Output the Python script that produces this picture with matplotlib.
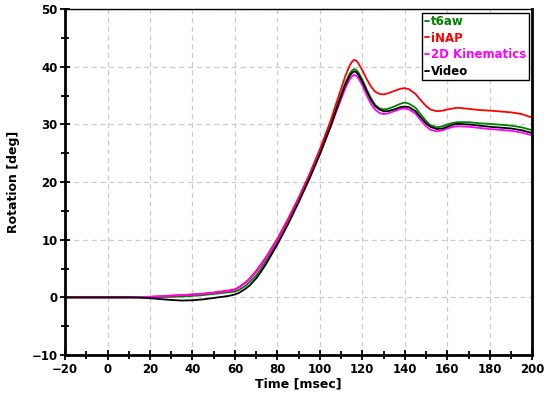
import numpy as np
import matplotlib
matplotlib.use("Agg")
import matplotlib.pyplot as plt
from matplotlib.ticker import MultipleLocator

# time axis [msec]
t = [-20, -10, 0, 10, 15, 20, 25, 30, 35, 40, 45, 50,
     55, 57, 60, 62, 65, 67, 70, 72, 75,
     80, 85, 90, 95, 100,
     105, 108, 110, 112, 114, 115, 116, 117, 118,
     120, 122, 124, 126, 128, 130, 132,
     135, 138, 140, 142, 145, 148, 150, 152,
     155, 158, 160, 163, 165,
     170, 175, 180, 190, 195, 200]

video = [0, 0, 0, 0, -0.05, -0.15, -0.3, -0.45, -0.55, -0.5, -0.35, -0.1,
         0.15, 0.25, 0.5, 0.8, 1.5, 2.1, 3.3, 4.3, 6.0,
         9.2, 12.7, 16.5, 20.5, 24.8,
         29.6, 32.8, 34.9, 36.9, 38.4, 38.9, 39.2, 39.1, 38.7,
         37.4, 35.8, 34.3, 33.2, 32.6, 32.3, 32.3,
         32.6, 33.0, 33.1, 33.0, 32.3, 31.0, 30.2, 29.6,
         29.2, 29.3, 29.6, 30.0, 30.1,
         30.0, 29.8, 29.6, 29.3, 29.0, 28.5]

t6aw = [0, 0, 0, 0, 0, 0, 0.05, 0.1, 0.15, 0.25, 0.4, 0.6,
        0.8, 0.9, 1.0, 1.3, 2.0, 2.7, 3.8, 4.8, 6.5,
        9.6, 13.0, 16.8, 20.8, 25.1,
        30.0, 33.2, 35.2, 37.2, 38.8, 39.3, 39.6, 39.5, 39.1,
        37.8, 36.1, 34.6, 33.4, 32.8, 32.6, 32.7,
        33.1, 33.6, 33.8, 33.6, 32.9, 31.5, 30.6, 29.9,
        29.5, 29.7, 30.0, 30.3, 30.4,
        30.4, 30.2, 30.1, 29.8, 29.5, 29.0]

inap = [0, 0, 0, 0, 0.05, 0.1, 0.2, 0.3, 0.4, 0.5, 0.65, 0.85,
        1.1, 1.2, 1.4, 1.8, 2.6, 3.3, 4.6, 5.6, 7.2,
        10.2, 13.6, 17.3, 21.3, 25.7,
        30.6, 34.0, 36.2, 38.4, 40.2, 40.8, 41.2, 41.1, 40.7,
        39.4, 37.9, 36.6, 35.7, 35.3, 35.2, 35.4,
        35.8, 36.2, 36.3, 36.1, 35.3, 34.0, 33.2, 32.6,
        32.3, 32.4, 32.6, 32.8, 32.9,
        32.7, 32.5, 32.4, 32.1, 31.8, 31.2]

kin2d = [0, 0, 0, 0, 0.05, 0.1, 0.2, 0.3, 0.4, 0.5, 0.6, 0.8,
         1.0, 1.1, 1.3, 1.7, 2.5, 3.2, 4.4, 5.4, 7.0,
         9.9, 13.2, 16.9, 20.8, 25.0,
         29.5, 32.5, 34.4, 36.3, 37.8, 38.3, 38.6, 38.5, 38.1,
         36.8, 35.1, 33.6, 32.6, 32.0, 31.8, 31.9,
         32.3, 32.7, 32.8, 32.6, 31.9, 30.5, 29.7, 29.1,
         28.8, 29.0, 29.3, 29.6, 29.7,
         29.6, 29.4, 29.2, 28.9, 28.6, 28.1]

series = [("t6aw", t6aw, "#008000"),
          ("iNAP", inap, "#ff0000"),
          ("2D Kinematics", kin2d, "#ff00ff"),
          ("Video", video, "#000000")]

plt.rcParams["font.family"] = "DejaVu Sans"
plt.rcParams["font.weight"] = "bold"

fig = plt.figure(figsize=(5.47, 3.98), dpi=100)
ax = fig.add_axes([0.119, 0.108, 0.854, 0.869])

for name, vals, col in series:
    ax.plot(t, vals, color=col, lw=1.3, label=name,
            solid_joinstyle="round", solid_capstyle="round")

ax.set_xlim(-20, 200)
ax.set_ylim(-10, 50)
ax.xaxis.set_major_locator(MultipleLocator(20))
ax.xaxis.set_minor_locator(MultipleLocator(10))
ax.yaxis.set_major_locator(MultipleLocator(10))
ax.yaxis.set_minor_locator(MultipleLocator(5))
ax.tick_params(which="both", direction="inout", top=False, right=False,
               labelsize=8.5, width=1.3, pad=2)
ax.tick_params(which="major", length=7)
ax.tick_params(which="minor", length=6)
for lab in ax.get_xticklabels() + ax.get_yticklabels():
    lab.set_fontweight("bold")

ax.grid(True, which="major", color="#cccccc", ls=(0, (4, 3)), lw=0.9)
for s in ["left", "bottom", "right"]:
    ax.spines[s].set_linewidth(2)
ax.spines["top"].set_linewidth(1)

ax.set_xlabel("Time [msec]", fontsize=9, fontweight="bold", labelpad=1)
ax.set_ylabel("Rotation [deg]", fontsize=9, fontweight="bold", labelpad=8)

leg = ax.legend(loc="upper right", handlelength=0.4, handletextpad=0.15,
                labelspacing=0.3, borderpad=0.2, borderaxespad=0.3,
                fancybox=False, edgecolor="black", framealpha=1,
                prop={"weight": "bold", "size": 8.5})
leg.get_frame().set_linewidth(1)
for txt, (_, _, col) in zip(leg.get_texts(), series):
    txt.set_color(col)

fig.savefig("out.png", dpi=100)
